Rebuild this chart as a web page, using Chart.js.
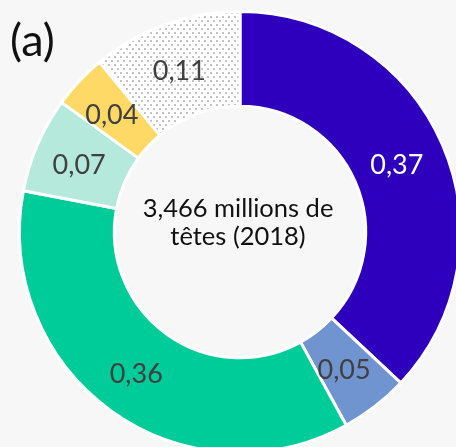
<!DOCTYPE html>
<html>
<head>
<meta charset="utf-8">
<script src="https://cdn.jsdelivr.net/npm/chart.js@4/dist/chart.umd.min.js"></script>
<style>
html,body{margin:0;padding:0;background:#f7f7f7;overflow:hidden;width:456px;height:447px;}
#wrap{position:absolute;left:0;top:0;width:480px;height:464px;}
</style>
</head>
<body>
<div id="wrap"><canvas id="c" width="480" height="464"></canvas></div>
<script>
const categories = ['A', 'B', 'C', 'D', 'E', 'F'];
const values = [0.37, 0.05, 0.36, 0.07, 0.04, 0.11];
const valueLabels = ['0,37', '0,05', '0,36', '0,07', '0,04', '0,11'];
const centerLines = ['3,466 millions de', 'têtes (2018)'];
const panelLabel = '(a)';

function dotPattern() {
  const t = document.createElement('canvas');
  t.width = 6; t.height = 8;
  const g = t.getContext('2d');
  g.fillStyle = '#ffffff'; g.fillRect(0, 0, 6, 8);
  g.fillStyle = '#c4c4c4';
  g.fillRect(0, 0, 2, 2);
  g.fillRect(3, 4, 2, 2);
  return document.getElementById('c').getContext('2d').createPattern(t, 'repeat');
}

const colors = ['#2E00BE', '#7094D0', '#00CC99', '#B4E9DC', '#FFD966', dotPattern()];
const labelColors = ['#ffffff', '#404040', '#404040', '#404040', '#404040', '#404040'];
const FONT = 'Lato';

const labelPlugin = {
  id: 'labels',
  afterDatasetsDraw(chart) {
    const ctx = chart.ctx;
    const meta = chart.getDatasetMeta(0);
    ctx.save();
    ctx.textAlign = 'center';
    ctx.textBaseline = 'middle';
    ctx.font = '27px ' + FONT;
    meta.data.forEach((arc, i) => {
      const p = arc.tooltipPosition();
      ctx.fillStyle = labelColors[i];
      ctx.fillText(valueLabels[i], p.x - 2, p.y + 2);
    });
    const cx = meta.data[0].x, cy = meta.data[0].y;
    ctx.fillStyle = '#111111';
    ctx.textBaseline = 'alphabetic';
    ctx.font = '25.5px ' + FONT;
    ctx.fillText(centerLines[0], cx - 2, cy - 15);
    ctx.fillText(centerLines[1], cx - 2, cy + 13);
    ctx.textAlign = 'left';
    ctx.font = '45px ' + FONT;
    ctx.fillText(panelLabel, 10, 56);
    ctx.restore();
  }
};

new Chart(document.getElementById('c'), {
  type: 'doughnut',
  data: {
    labels: categories,
    datasets: [{
      data: values,
      backgroundColor: colors,
      borderColor: '#ffffff',
      borderWidth: 3,
      hoverOffset: 0
    }]
  },
  options: {
    responsive: false,
    animation: false,
    cutout: '57%',
    layout: { padding: 10 },
    plugins: { legend: { display: false }, tooltip: { enabled: false } },
    events: []
  },
  plugins: [labelPlugin]
});
</script>
</body>
</html>
